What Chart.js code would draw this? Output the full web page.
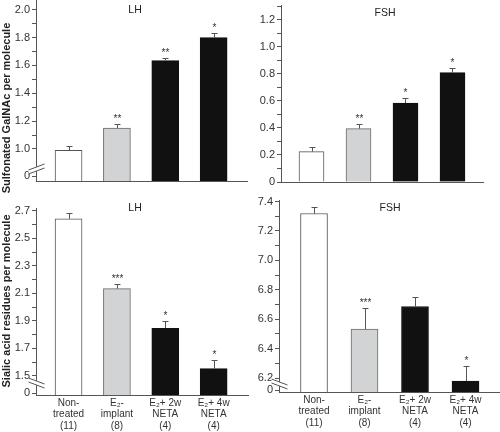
<!DOCTYPE html>
<html>
<head>
<meta charset="utf-8">
<script src="https://cdn.jsdelivr.net/npm/chart.js@4"></script>
<style>
  html, body { margin: 0; padding: 0; background: #fff; }
  #wrap { position: relative; width: 500px; height: 432px; overflow: hidden; }
  canvas { position: absolute; }
</style>
</head>
<body>
<div id="wrap">
  <canvas id="bl" width="250" height="242" style="left:0;top:190px"></canvas>
  <canvas id="br" width="250" height="242" style="left:250px;top:190px"></canvas>
  <canvas id="tl" width="250" height="205" style="left:0;top:0"></canvas>
  <canvas id="tr" width="250" height="205" style="left:250px;top:0"></canvas>
</div>
<script>
// groups (x categories), same for all four panels
const groupLabels = [
  ['Non-', 'treated', '(11)'],
  ['E₂-', 'implant', '(8)'],
  ['E₂+ 2w', 'NETA', '(4)'],
  ['E₂+ 4w', 'NETA', '(4)'],
];
const barFill = ['#ffffff', '#d2d3d4', '#111111', '#111111'];
const barEdge = ['#555555', '#6a6a6a', '#111111', '#111111'];

// sulfonated GalNAc per molecule
const lhSulfo = [0.99, 1.15, 1.635, 1.80];
const lhSulfoErr = [0.03, 0.03, 0.022, 0.03];
const lhSulfoSig = ['', '**', '**', '*'];
const fshSulfo = [0.225, 0.395, 0.585, 0.81];
const fshSulfoErr = [0.032, 0.035, 0.038, 0.032];
const fshSulfoSig = ['', '**', '*', '*'];

// sialic acid residues per molecule
const lhSialic = [2.642, 2.135, 1.847, 1.553];
const lhSialicErr = [0.045, 0.032, 0.05, 0.065];
const lhSialicSig = ['', '***', '*', '*'];
const fshSialic = [7.318, 6.532, 6.686, 6.18];
const fshSialicErr = [0.045, 0.142, 0.068, 0.10];
const fshSialicSig = ['', '***', '', '*'];

// y tick labels (major labelled, minor unlabelled); brk = spot labelled "0" under the axis break
const lhSulfoTicks = [1.0, 1.2, 1.4, 1.6, 1.8, 2.0];
const lhSulfoMinor = [1.1, 1.3, 1.5, 1.7, 1.9];
const fshSulfoTicks = [0, 0.2, 0.4, 0.6, 0.8, 1.0, 1.2];
const fshSulfoMinor = [0.1, 0.3, 0.5, 0.7, 0.9, 1.1, 1.3];
const lhSialicTicks = [1.5, 1.7, 1.9, 2.1, 2.3, 2.5, 2.7];
const lhSialicMinor = [1.6, 1.8, 2.0, 2.2, 2.4, 2.6];
const fshSialicTicks = [6.2, 6.4, 6.6, 6.8, 7.0, 7.2, 7.4];
const fshSialicMinor = [6.3, 6.5, 6.7, 6.9, 7.1, 7.3];

const FONT = "'Liberation Sans', Arial, Helvetica, sans-serif";
const near = (a, b) => Math.abs(a - b) < 1e-6;

const extras = {
  id: 'extras',
  afterDatasetsDraw(chart, args, o) {
    const ctx = chart.ctx, xs = chart.scales.x, ys = chart.scales.y;
    const vals = chart.data.datasets[0].data;
    ctx.save();
    ctx.strokeStyle = '#555';
    ctx.lineWidth = 1;
    vals.forEach((d, i) => {
      const px = Math.round(xs.getPixelForValue(d.x)) + 0.5;
      const y0 = ys.getPixelForValue(d.y);
      const y1 = Math.round(ys.getPixelForValue(d.y + o.errors[i])) + 0.5;
      ctx.beginPath();
      ctx.moveTo(px, y0); ctx.lineTo(px, y1);
      ctx.moveTo(px - 3, y1); ctx.lineTo(px + 3, y1);
      ctx.stroke();
      if (o.marks[i]) {
        ctx.fillStyle = '#333';
        ctx.font = '10px ' + FONT;
        ctx.textAlign = 'center';
        ctx.textBaseline = 'alphabetic';
        ctx.fillText(o.marks[i], px, y1 - 3);
      }
    });
    // axis break
    if (o.breakAt) {
      const ax = ys.right + 0.5, yc = chart.chartArea.bottom - o.breakAt, s = o.breakDir;
      ctx.fillStyle = '#fff';
      ctx.beginPath();
      ctx.moveTo(ax - 8, yc - 2 + 3 * s); ctx.lineTo(ax + 8, yc - 2 - 3 * s);
      ctx.lineTo(ax + 8, yc + 2 - 3 * s); ctx.lineTo(ax - 8, yc + 2 + 3 * s);
      ctx.closePath(); ctx.fill();
      ctx.beginPath();
      [-2, 2].forEach(dd => {
        ctx.moveTo(ax - 8, yc + dd + 3 * s); ctx.lineTo(ax + 8, yc + dd - 3 * s);
      });
      ctx.stroke();
    }
    // panel name
    ctx.fillStyle = '#222';
    ctx.font = '10.5px ' + FONT;
    ctx.textAlign = 'center';
    ctx.textBaseline = 'middle';
    ctx.fillText(o.title, o.titleX, o.titleY);
    // y title
    if (o.yTitle) {
      ctx.translate(o.yTitleX, o.yTitleY);
      ctx.rotate(-Math.PI / 2);
      ctx.font = 'bold 11px ' + FONT;
      ctx.fillText(o.yTitle, 0, 0);
    }
    ctx.restore();
  }
};

function panel(id, p) {
  const major = p.ticks, minor = p.minor;
  const all = (p.brk != null ? [p.brk] : []).concat(major, minor);
  return new Chart(document.getElementById(id), {
    type: 'bar',
    data: {
      datasets: [{
        data: p.values.map((v, i) => ({ x: i, y: v })),
        backgroundColor: barFill,
        borderColor: barEdge,
        borderWidth: 1,
        barThickness: p.barW,
      }]
    },
    options: {
      responsive: false,
      animation: false,
      layout: { padding: p.pad },
      plugins: {
        legend: { display: false },
        tooltip: { enabled: false },
        extras: {
          errors: p.errors, marks: p.marks,
          breakAt: p.breakAt, breakDir: p.breakDir,
          title: p.title, titleX: p.titleX, titleY: p.titleY,
          yTitle: p.yTitle, yTitleX: 7, yTitleY: p.yTitleY,
        }
      },
      scales: {
        x: {
          type: 'linear', min: p.xMin, max: p.xMax, offset: false,
          afterBuildTicks: s => { s.ticks = groupLabels.map((g, i) => ({ value: i })); },
          afterFit: s => { s.height = p.xH; s.paddingLeft = 0; s.paddingRight = 0; },
          grid: { display: false, drawTicks: false, offset: false },
          border: { color: '#555', width: 1 },
          ticks: {
            display: p.showX,
            padding: 2,
            color: '#333',
            font: { family: FONT, size: 10, lineHeight: 1.17 },
            callback: v => groupLabels[v],
            maxRotation: 0, autoSkip: false,
          }
        },
        y: {
          min: p.yMin, max: p.yMax,
          afterBuildTicks: s => { s.ticks = all.map(v => ({ value: v })); },
          afterFit: s => { s.width = p.yW; s.paddingTop = 0; s.paddingBottom = 0; },
          grid: { drawOnChartArea: false, tickLength: 4, tickColor: '#555' },
          border: { color: '#555', width: 1 },
          ticks: {
            padding: 2,
            color: '#333',
            font: { family: FONT, size: 11 },
            autoSkip: false,
            callback: v => {
              if (p.brk != null && near(v, p.brk)) return '0';
              if (major.some(m => near(m, v))) return v === 0 ? '0' : v.toFixed(1);
              return '';
            }
          }
        }
      }
    },
    plugins: [extras]
  });
}

panel('tl', {
  values: lhSulfo, errors: lhSulfoErr, marks: lhSulfoSig,
  ticks: lhSulfoTicks, minor: lhSulfoMinor, brk: 0.805,
  yMin: 0.77, yMax: 2.07, xMin: -0.673, xMax: 3.69, barW: 27,
  pad: { top: 0, right: 3, bottom: 24, left: 0 }, xH: 0, yW: 36, showX: false,
  breakAt: 12, breakDir: 1,
  title: 'LH', titleX: 135, titleY: 10,
  yTitle: 'Sulfonated GalNAc per molecule', yTitleY: 108,
});
panel('tr', {
  values: fshSulfo, errors: fshSulfoErr, marks: fshSulfoSig,
  ticks: fshSulfoTicks, minor: fshSulfoMinor, brk: null,
  yMin: 0, yMax: 1.31, xMin: -0.649, xMax: 3.649, barW: 25,
  pad: { top: 5, right: 17, bottom: 23, left: 0 }, xH: 0, yW: 31, showX: false,
  title: 'FSH', titleX: 135, titleY: 13,
});
panel('bl', {
  values: lhSialic, errors: lhSialicErr, marks: lhSialicSig,
  ticks: lhSialicTicks, minor: lhSialicMinor, brk: 1.376,
  yMin: 1.362, yMax: 2.72, xMin: -0.673, xMax: 3.71, barW: 27,
  pad: { top: 18, right: 2, bottom: 0, left: 0 }, xH: 37, yW: 36, showX: true,
  breakAt: 12, breakDir: -1,
  title: 'LH', titleX: 135, titleY: 18,
  yTitle: 'Sialic acid residues per molecule', yTitleY: 111,
});
panel('br', {
  values: fshSialic, errors: fshSialicErr, marks: fshSialicSig,
  ticks: fshSialicTicks, minor: fshSialicMinor, brk: 6.118,
  yMin: 6.105, yMax: 7.41, xMin: -0.693, xMax: 3.683, barW: 27,
  pad: { top: 10, right: 0, bottom: 0, left: 0 }, xH: 40, yW: 29, showX: true,
  breakAt: 8, breakDir: -1,
  title: 'FSH', titleX: 140, titleY: 18,
});
</script>
</body>
</html>
